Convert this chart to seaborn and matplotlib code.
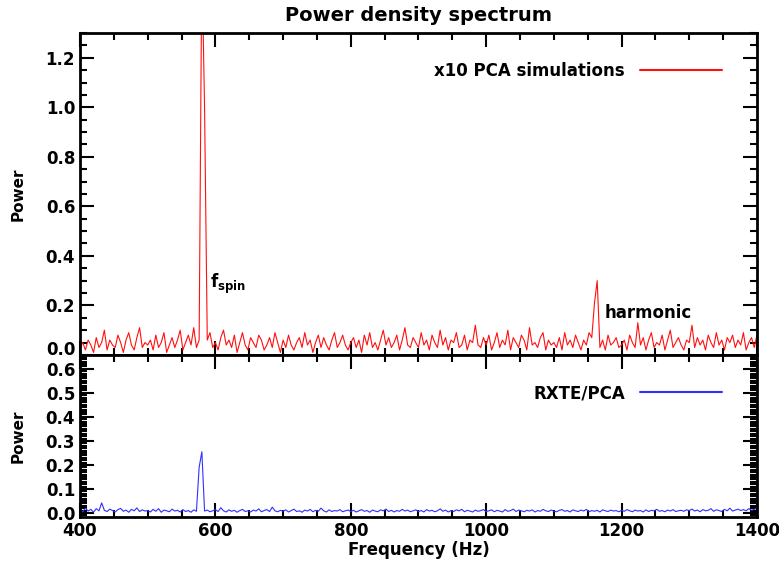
import numpy as np
import pandas as pd
import matplotlib
matplotlib.use("Agg")
import matplotlib.pyplot as plt
from matplotlib.ticker import MultipleLocator, FormatStrFormatter
import matplotlib.transforms as mtransforms
import seaborn as sns

# frequency grid (Hz), 4 Hz bins
freq = np.arange(400, 1401, 4)

# x10 PCA simulations, power in units of 0.01
sim_power = [
    3, 5, 2, 6, 4, 1, 7, 3, 5, 10, 2, 6, 4, 3, 8, 5, 1, 6, 9, 4, 2, 7, 11, 3, 5,
    4, 6, 2, 8, 3, 5, 9, 1, 4, 7, 3, 6, 10, 2, 5, 8, 4, 11, 3, 6, 160, 100, 6, 9, 3,
    5, 2, 7, 10, 4, 6, 3, 8, 1, 5, 9, 4, 2, 7, 5, 3, 8, 6, 2, 4, 7, 3, 9, 5, 1,
    6, 3, 8, 4, 2, 5, 7, 3, 9, 4, 6, 1, 5, 8, 3, 7, 4, 2, 6, 9, 3, 5, 8, 4, 2,
    5, 7, 3, 6, 1, 8, 4, 9, 3, 5, 2, 6, 10, 4, 7, 3, 5, 8, 2, 6, 11, 4, 3, 7, 5,
    3, 9, 4, 6, 2, 8, 5, 3, 10, 4, 7, 2, 6, 5, 9, 3, 4, 8, 2, 6, 5, 12, 4, 3, 7,
    4, 8, 2, 5, 9, 3, 6, 4, 10, 2, 7, 5, 3, 8, 6, 2, 11, 4, 5, 3, 7, 9, 2, 6, 4,
    5, 3, 7, 2, 9, 4, 6, 3, 8, 5, 2, 6, 4, 9, 7, 21, 30, 3, 6, 2, 8, 4, 5, 7, 3,
    4, 6, 2, 8, 5, 3, 13, 4, 7, 2, 6, 9, 3, 5, 4, 8, 2, 6, 10, 3, 5, 7, 4, 2, 6,
    5, 12, 3, 7, 4, 6, 2, 8, 5, 3, 9, 4, 6, 2, 7, 5, 8, 3, 6, 4, 9, 2, 5, 7, 3,
    8,
]

# RXTE/PCA, power in units of 0.001
pca_power = [
    12, 5, 20, 8, 15, 3, 18, 9, 42, 11, 6, 16, 10, 4, 14, 19, 7, 12, 3, 15, 9, 21, 6, 13, 8,
    10, 4, 15, 7, 18, 3, 12, 9, 5, 16, 8, 11, 4, 14, 6, 10, 3, 13, 7, 190, 255, 8, 12, 5, 9,
    14, 6, 22, 9, 4, 13, 7, 11, 3, 10, 15, 6, 9, 4, 12, 8, 17, 5, 10, 14, 6, 24, 9, 5, 11,
    7, 13, 4, 10, 16, 6, 9, 3, 12, 8, 15, 5, 11, 7, 20, 9, 4, 13, 6, 10, 8, 14, 5, 9, 12,
    6, 11, 4, 9, 14, 7, 10, 3, 12, 8, 5, 13, 9, 16, 6, 11, 4, 10, 7, 15, 8, 12, 5, 9, 13,
    6, 10, 4, 14, 8, 11, 5, 9, 17, 7, 12, 4, 10, 6, 13, 9, 15, 5, 11, 8, 4, 12, 7, 10, 14,
    6, 9, 13, 5, 11, 8, 4, 14, 7, 10, 16, 6, 12, 9, 5, 11, 8, 13, 4, 10, 7, 15, 9, 6, 12,
    8, 5, 11, 14, 7, 10, 4, 13, 9, 6, 12, 8, 15, 5, 10, 7, 11, 4, 13, 9, 6, 12, 8, 10, 5,
    11, 7, 14, 9, 5, 12, 8, 10, 4, 13, 6, 11, 9, 15, 7, 10, 5, 12, 8, 14, 6, 9, 11, 7, 13,
    10, 16, 8, 12, 5, 14, 9, 11, 18, 7, 13, 10, 6, 15, 9, 20, 8, 12, 16, 10, 14, 9, 18, 11, 15,
    20,
]

sim = pd.DataFrame({"freq": freq, "power": np.array(sim_power) / 100})
pca = pd.DataFrame({"freq": freq, "power": np.array(pca_power) / 1000})

sns.set_style("ticks")
plt.rcParams['font.family'] = ['DejaVu Sans']
plt.rcParams['font.weight'] = 'bold'
plt.rcParams['mathtext.fontset'] = 'dejavusans'
for k in ('text.color', 'axes.labelcolor', 'xtick.color', 'ytick.color', 'axes.edgecolor'):
    plt.rcParams[k] = 'black'

fig = plt.figure(figsize=(7.79, 5.79), dpi=100)
ax1 = fig.add_axes([0.1027, 0.387, 0.869, 0.556])
ax2 = fig.add_axes([0.1027, 0.107, 0.869, 0.280])

sns.lineplot(data=sim, x="freq", y="power", ax=ax1, color="#ff1010",
             lw=0.8, estimator=None, label="x10 PCA simulations")
sns.lineplot(data=pca, x="freq", y="power", ax=ax2, color="#3030ff",
             lw=0.8, estimator=None, label="RXTE/PCA")

ax1.set_xlim(400, 1400)
ax1.set_ylim(0, 1.3)
ax2.set_xlim(400, 1400)
ax2.set_ylim(-0.017, 0.658)

for ax in (ax1, ax2):
    ax.xaxis.set_major_locator(MultipleLocator(200))
    ax.xaxis.set_minor_locator(MultipleLocator(50))
    ax.tick_params(which="both", direction="in", top=True, right=True,
                   width=1.5, labelsize=12, colors="black")
    ax.tick_params(which="major", length=10)
    ax.tick_params(which="minor", length=5)
    for sp in ax.spines.values():
        sp.set_linewidth(2)
        sp.set_color("black")
    ax.set_ylabel("Power", fontsize=11, fontweight="bold")
    ax.yaxis.set_label_coords(-0.08, 0.5)
    ax.yaxis.set_major_formatter(FormatStrFormatter("%.1f"))

ax1.yaxis.set_major_locator(MultipleLocator(0.2))
ax1.yaxis.set_minor_locator(MultipleLocator(0.05))
ax2.yaxis.set_major_locator(MultipleLocator(0.1))
ax2.yaxis.set_minor_locator(MultipleLocator(0.01))

ax1.tick_params(labelbottom=False)
ax1.set_xlabel("")
ax2.set_xlabel("Frequency (Hz)", fontsize=12, fontweight="bold")
ax2.xaxis.labelpad = 1

ax1.set_title("Power density spectrum", fontsize=14, fontweight="bold", pad=9)

ax1.text(592, 0.27, r"$\mathbf{f}_{\mathbf{spin}}$", fontsize=12)
ax1.text(1175, 0.17, "harmonic", fontsize=12, fontweight="bold", va="center")

for ax, yc in ((ax1, 0.882), (ax2, 0.765)):
    leg = ax.legend(loc="center right", bbox_to_anchor=(0.948, yc),
                    frameon=False, markerfirst=False, borderpad=0,
                    borderaxespad=0, handlelength=4.9, handletextpad=0.9,
                    prop={"size": 12, "weight": "bold"})
    for h in leg.get_lines():
        h.set_linewidth(1.5)

fig.canvas.draw()
# nudge the lowest top-panel label up so it clears the lower panel's top label
for lab in ax1.get_yticklabels():
    lab.set_fontweight("bold")
    if lab.get_text() == "0.0":
        lab.set_transform(lab.get_transform() +
                          mtransforms.ScaledTranslation(0, 5 / 72, fig.dpi_scale_trans))
for lab in ax2.get_yticklabels() + ax2.get_xticklabels():
    lab.set_fontweight("bold")

fig.savefig("out.png", dpi=100)
